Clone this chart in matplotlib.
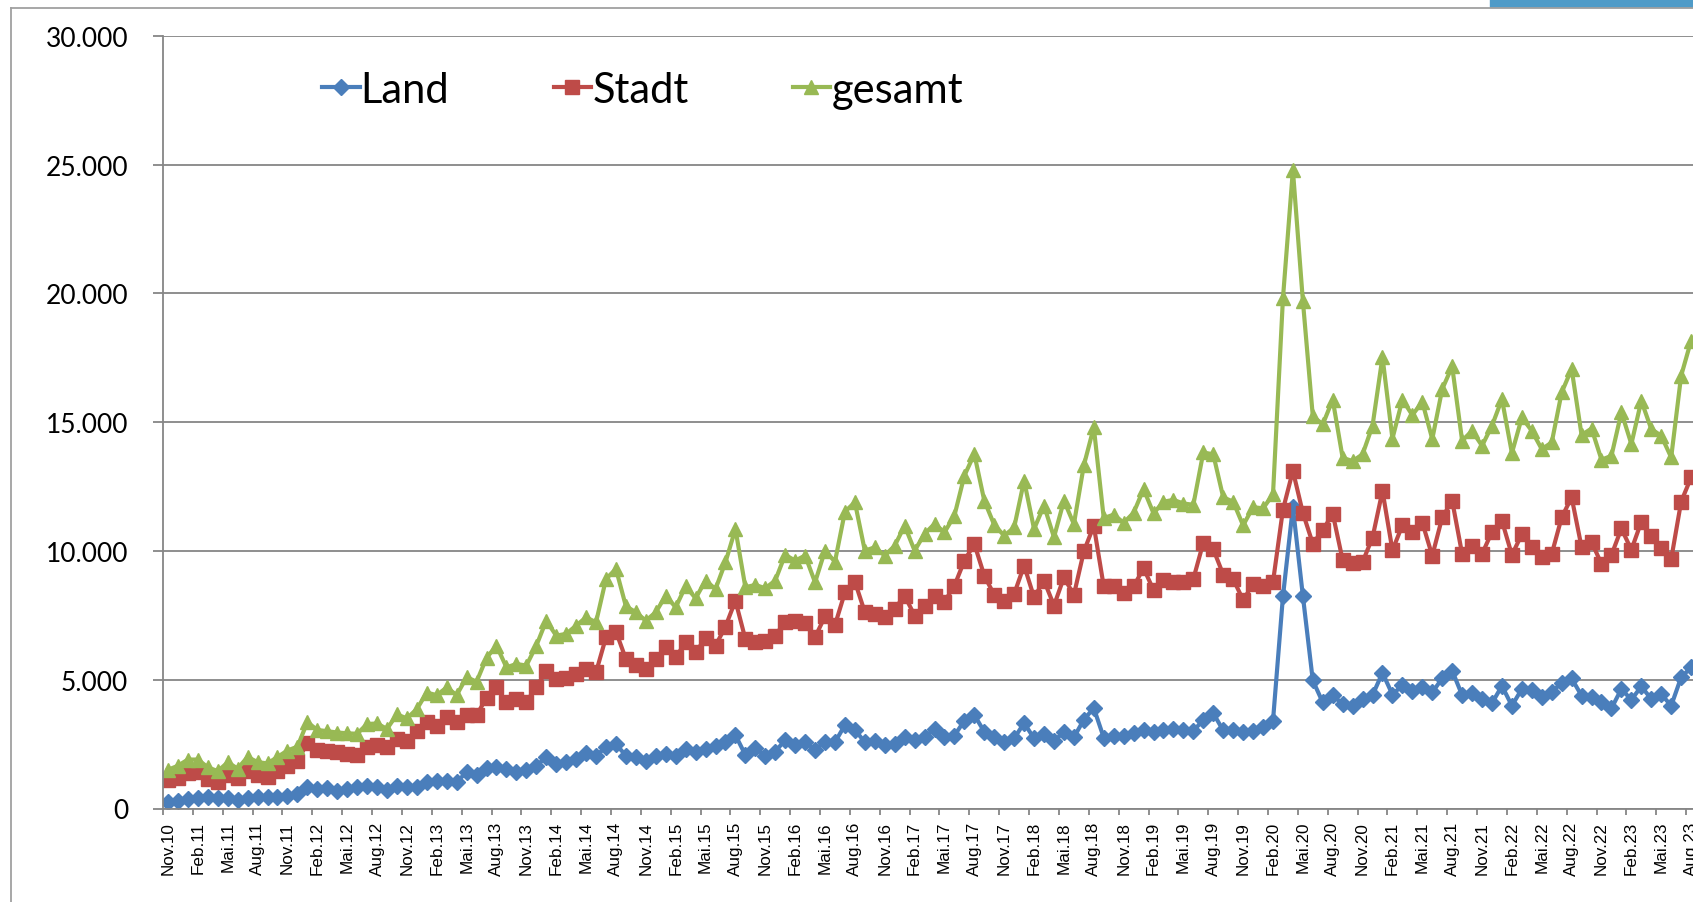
import numpy as np
import matplotlib.pyplot as plt
from matplotlib.lines import Line2D
from matplotlib.patches import Rectangle
from matplotlib.ticker import FuncFormatter

# monthly values Nov.10 .. Aug.23
land = [270, 300, 370, 410, 430, 410, 400, 340, 410, 430,
        430, 430, 500, 560, 820, 760, 780, 690, 760, 820,
        890, 820, 730, 890, 820, 820, 1020, 1080, 1080, 1040,
        1400, 1290, 1580, 1630, 1530, 1430, 1510, 1660, 1990, 1730,
        1790, 1920, 2150, 2050, 2380, 2500, 2050, 1990, 1860, 2020,
        2120, 2050, 2310, 2210, 2310, 2440, 2570, 2850, 2080, 2340,
        2050, 2210, 2660, 2470, 2590, 2280, 2590, 2570, 3240, 3060,
        2570, 2630, 2470, 2500, 2760, 2670, 2760, 3090, 2760, 2830,
        3410, 3630, 2980, 2760, 2590, 2720, 3320, 2720, 2890, 2630,
        2960, 2760, 3450, 3900, 2750, 2800, 2800, 2950, 3050, 2980,
        3050, 3100, 3050, 3000, 3450, 3700, 3030, 3060, 2980, 3020,
        3180, 3400, 8230, 11700, 8260, 4970, 4120, 4400, 4050, 3980,
        4240, 4400, 5270, 4420, 4790, 4570, 4700, 4510, 5050, 5350,
        4400, 4480, 4250, 4090, 4760, 3990, 4640, 4610, 4310, 4510,
        4890, 5050, 4380, 4310, 4120, 3890, 4640, 4220, 4740, 4250,
        4440, 3990, 5090, 5480]

stadt = [1120, 1190, 1390, 1400, 1150, 1020, 1300, 1180, 1470, 1290,
         1220, 1470, 1660, 1860, 2530, 2280, 2220, 2190, 2130, 2060,
         2380, 2460, 2380, 2680, 2630, 3000, 3350, 3220, 3540, 3350,
         3620, 3630, 4290, 4700, 4120, 4250, 4150, 4700, 5350, 5030,
         5050, 5220, 5420, 5290, 6650, 6870, 5800, 5570, 5420, 5800,
         6260, 5870, 6450, 6060, 6610, 6320, 7060, 8070, 6580, 6480,
         6520, 6710, 7250, 7290, 7200, 6650, 7460, 7120, 8390, 8810,
         7620, 7550, 7420, 7750, 8260, 7490, 7880, 8260, 8030, 8650,
         9620, 10270, 9040, 8290, 8070, 8330, 9430, 8200, 8850, 7880,
         8970, 8290, 9980, 10980, 8620, 8650, 8370, 8620, 9330, 8480,
         8860, 8790, 8790, 8910, 10320, 10070, 9080, 8910, 8090, 8720,
         8650, 8790, 11600, 13110, 11480, 10280, 10800, 11450, 9640, 9530,
         9570, 10520, 12330, 10020, 11000, 10720, 11100, 9810, 11300, 11950,
         9880, 10200, 9880, 10740, 11170, 9840, 10650, 10140, 9750, 9880,
         11300, 12080, 10140, 10350, 9490, 9840, 10870, 10040, 11130, 10560,
         10100, 9680, 11910, 12850]

gesamt = [1500, 1660, 1900, 1900, 1600, 1450, 1790, 1550, 2000, 1800,
          1750, 2000, 2250, 2400, 3350, 3050, 3000, 2950, 2920, 2900,
          3280, 3300, 3090, 3650, 3500, 3860, 4500, 4400, 4700, 4400,
          5100, 4920, 5850, 6320, 5480, 5610, 5550, 6320, 7290, 6710,
          6780, 7100, 7420, 7230, 8910, 9300, 7850, 7620, 7290, 7620,
          8260, 7810, 8630, 8160, 8850, 8520, 9560, 10850, 8590, 8680,
          8550, 8850, 9850, 9620, 9820, 8780, 10010, 9580, 11520, 11890,
          10010, 10140, 9820, 10200, 10980, 10010, 10660, 11050, 10720, 11370,
          12920, 13760, 11950, 11010, 10590, 10910, 12730, 10850, 11760, 10530,
          11950, 11040, 13320, 14800, 11270, 11410, 11090, 11480, 12400, 11460,
          11910, 11980, 11840, 11790, 13820, 13750, 12080, 11910, 10990, 11700,
          11650, 12190, 19800, 24790, 19720, 15230, 14910, 15870, 13610, 13490,
          13750, 14860, 17530, 14360, 15870, 15270, 15790, 14340, 16280, 17160,
          14280, 14660, 14080, 14860, 15890, 13800, 15180, 14660, 13950, 14210,
          16150, 17060, 14500, 14750, 13540, 13690, 15380, 14150, 15830, 14730,
          14470, 13630, 16800, 18160]

tick_labels = ["Nov.10", "Feb.11", "Mai.11", "Aug.11", "Nov.11", "Feb.12", "Mai.12", "Aug.12",
               "Nov.12", "Feb.13", "Mai.13", "Aug.13", "Nov.13", "Feb.14", "Mai.14", "Aug.14",
               "Nov.14", "Feb.15", "Mai.15", "Aug.15", "Nov.15", "Feb.16", "Mai.16", "Aug.16",
               "Nov.16", "Feb.17", "Mai.17", "Aug.17", "Nov.17", "Feb.18", "Mai.18", "Aug.18",
               "Nov.18", "Feb.19", "Mai.19", "Aug.19", "Nov.19", "Feb.20", "Mai.20", "Aug.20",
               "Nov.20", "Feb.21", "Mai.21", "Aug.21", "Nov.21", "Feb.22", "Mai.22", "Aug.22",
               "Nov.22", "Feb.23", "Mai.23", "Aug.23"]

GRID = '#868686'
W, H = 1693, 903

fig = plt.figure(figsize=(W / 100, H / 100), dpi=100)
# axes runs past the right edge, like the cropped original
ax = fig.add_axes([163 / W, 1 - 809.5 / H, 160.5 * 9.955 / W, 772.8 / H])

x = np.arange(len(land))
ax.plot(x, land, color='#4A7EBB', lw=3, marker='D', ms=8, mec='#4A7EBB', label='Land')
ax.plot(x, stadt, color='#BE4B48', lw=3, marker='s', ms=9.5, mec='#BE4B48', label='Stadt')
ax.plot(x, gesamt, color='#98B954', lw=3, marker='^', ms=10.5, mec='#98B954', label='gesamt')

ax.set_xlim(-0.5, 160)
ax.set_ylim(0, 30000)
ax.set_yticks(range(0, 30001, 5000))
ax.yaxis.set_major_formatter(FuncFormatter(lambda v, p: f"{v:,.0f}".replace(',', '.')))
ax.yaxis.grid(True, color=GRID, lw=1.3)
ax.set_axisbelow(True)

for s in ['top', 'right']:
    ax.spines[s].set_visible(False)
for s in ['left', 'bottom']:
    ax.spines[s].set_color(GRID)
    ax.spines[s].set_linewidth(1.3)

ax.tick_params(axis='y', length=7, width=1.3, color=GRID, pad=18, labelsize=19)
for lbl in ax.get_yticklabels():
    lbl.set_fontfamily('Lato')

ax.set_xticks(np.arange(0, len(land), 3))
ax.set_xticklabels(tick_labels, rotation=90, fontsize=12.3, family='Liberation Sans')
ax.set_xticks(np.arange(-0.5, 160, 3), minor=True)
ax.tick_params(axis='x', which='major', length=0, pad=9)
ax.tick_params(axis='x', which='minor', length=4, width=1.3, color=GRID)

fig.legend(*ax.get_legend_handles_labels(), loc='center left',
           bbox_to_anchor=(322 / W, 1 - 91 / H), ncol=3, frameon=False,
           prop={'family': 'Lato', 'size': 30}, handlelength=0.9,
           handletextpad=0.03, columnspacing=2.5, borderpad=0, borderaxespad=0)

# slide frame and the blue bar top right
fig.add_artist(Line2D([11 / W, 11 / W], [0, 1 - 9 / H], color='#A0A0A0', lw=1.3,
                      transform=fig.transFigure))
fig.add_artist(Line2D([11 / W, 1], [1 - 9 / H, 1 - 9 / H], color='#A0A0A0', lw=1.3,
                      transform=fig.transFigure))
fig.add_artist(Rectangle((1490 / W, 1 - 8 / H), (W - 1490) / W, 8 / H, color='#4F9BC8',
                         transform=fig.transFigure))

fig.savefig('out.png', dpi=100)
